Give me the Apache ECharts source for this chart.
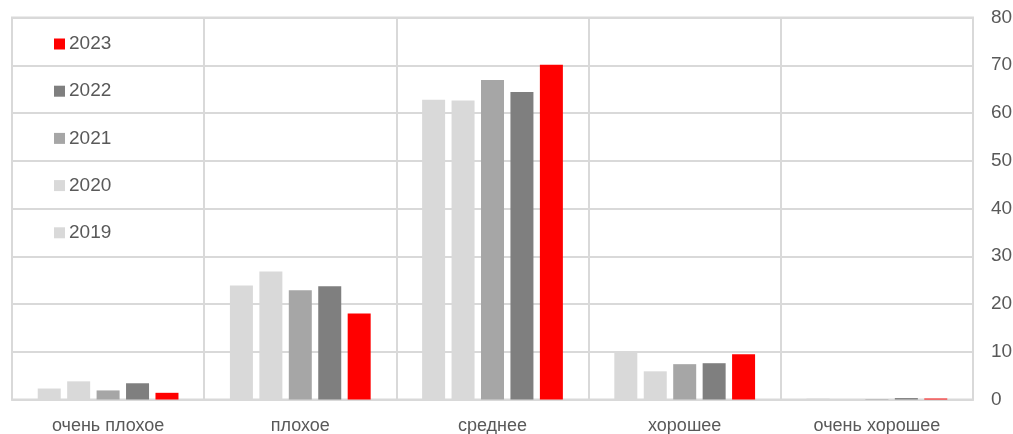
<!DOCTYPE html>
<html>
<head>
<meta charset="utf-8">
<script src="https://cdn.jsdelivr.net/npm/echarts@6/dist/echarts.min.js"></script>
<style>
  html, body { margin: 0; padding: 0; background: #ffffff; }
  #chart { width: 1013px; height: 434px; }
</style>
</head>
<body>
<div id="chart"></div>
<script>
// Assessment categories (x axis)
const categories = ['очень плохое', 'плохое', 'среднее', 'хорошее', 'очень хорошее'];

// Shares by year, %
const y2019 = [2.3, 23.9, 62.8, 9.8, 0.2];
const y2020 = [3.8, 26.8, 62.6, 5.9, 0.05];
const y2021 = [1.9, 22.9, 66.9, 7.4, 0.1];
const y2022 = [3.4, 23.7, 64.4, 7.6, 0.3];
const y2023 = [1.4, 18.0, 70.1, 9.5, 0.2];

// Value axis ticks
const yMin = 0, yMax = 80, yStep = 10;

const years = ['2019', '2020', '2021', '2022', '2023'];
const values = [y2019, y2020, y2021, y2022, y2023];
const colors = ['#d9d9d9', '#d9d9d9', '#a6a6a6', '#7f7f7f', '#ff0000'];

const FONT = '"Liberation Sans", Arial, sans-serif';
const TEXT = '#595959';
const GRIDC = '#d9d9d9';

const chart = echarts.init(document.getElementById('chart'), null, { renderer: 'canvas' });

chart.setOption({
  animation: false,
  backgroundColor: '#ffffff',
  textStyle: { fontFamily: FONT },
  grid: {
    left: 12, right: 40, top: 17.5, bottom: 34.5,
    outerBoundsMode: 'none',
    show: true, borderColor: GRIDC, borderWidth: 2, containLabel: false
  },
  legend: {
    orient: 'vertical',
    left: 54, top: 34,
    padding: 0,
    data: ['2023', '2022', '2021', '2020', '2019'],
    icon: 'rect',
    itemWidth: 11, itemHeight: 11,
    itemGap: 27.2,
    textStyle: { color: TEXT, fontSize: 19, fontFamily: FONT, lineHeight: 20, padding: [0, 0, 0, -1] }
  },
  xAxis: {
    type: 'category',
    data: categories,
    axisLine: { show: true, lineStyle: { color: GRIDC, width: 2 } },
    axisTick: { show: false },
    splitLine: { show: true, lineStyle: { color: GRIDC, width: 2 } },
    axisLabel: { color: TEXT, fontSize: 18, fontFamily: FONT, margin: 18 }
  },
  yAxis: {
    type: 'value',
    position: 'right',
    min: yMin, max: yMax, interval: yStep,
    axisLine: { show: false },
    axisTick: { show: false },
    splitLine: { show: true, lineStyle: { color: GRIDC, width: 2 } },
    axisLabel: { color: TEXT, fontSize: 19, fontFamily: FONT, margin: 18, align: 'left' }
  },
  series: years.map((yr, i) => ({
    name: yr,
    type: 'bar',
    data: values[i],
    barWidth: 23,
    barGap: '28%',
    itemStyle: { color: colors[i] }
  }))
});
</script>
</body>
</html>
